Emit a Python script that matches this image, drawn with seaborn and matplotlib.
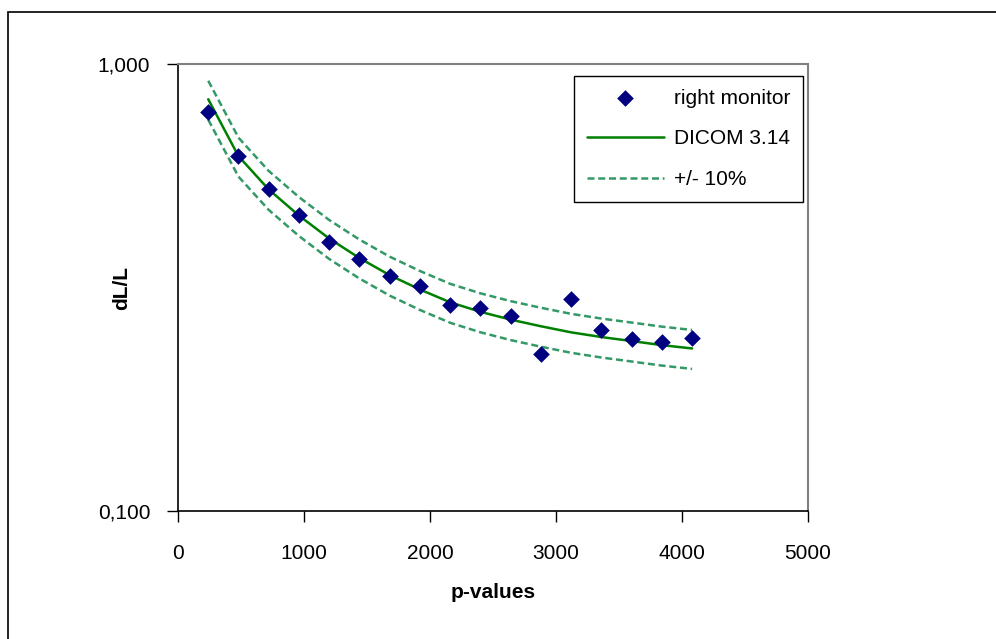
import numpy as np
import pandas as pd
import matplotlib
matplotlib.use("Agg")
import matplotlib.pyplot as plt
import seaborn as sns
from matplotlib.patches import Rectangle
from matplotlib.ticker import FixedLocator, FuncFormatter, NullLocator

# measured points (right monitor)
p_values = [240, 480, 720, 960, 1200, 1440, 1680, 1920, 2160,
            2400, 2640, 2880, 3120, 3360, 3600, 3840, 4080]
dl_monitor = [0.782, 0.622, 0.524, 0.460, 0.400, 0.366, 0.335, 0.319, 0.289,
              0.284, 0.273, 0.224, 0.298, 0.254, 0.243, 0.239, 0.244]

# DICOM 3.14 reference curve, read at the same p-values
dl_dicom = [0.834, 0.622, 0.524, 0.458, 0.407, 0.368, 0.337, 0.313, 0.293,
            0.279, 0.268, 0.259, 0.251, 0.245, 0.240, 0.235, 0.231]

tolerance = 0.10

df = pd.DataFrame({"p": p_values, "monitor": dl_monitor, "dicom": dl_dicom})
df["upper"] = df["dicom"] * (1 + tolerance)
df["lower"] = df["dicom"] * (1 - tolerance)

sns.set_style("white")
plt.rcParams["font.family"] = ["Liberation Sans", "DejaVu Sans"]
plt.rcParams.update({"text.color": "black", "axes.labelcolor": "black",
                     "xtick.color": "black", "ytick.color": "black"})
fs = 15

fig = plt.figure(figsize=(9.96, 6.39), dpi=100)
ax = fig.add_axes([178 / 996, 1 - 511 / 639, 630 / 996, 447 / 639])

sns.scatterplot(data=df, x="p", y="monitor", ax=ax, marker="D", s=72,
                color="#000080", edgecolor="#000080", linewidth=0,
                label="right monitor", zorder=3)
sns.lineplot(data=df, x="p", y="dicom", ax=ax, color="#008000", lw=1.8,
             label="DICOM 3.14", zorder=2)
sns.lineplot(data=df, x="p", y="upper", ax=ax, color="#339966", lw=1.8,
             linestyle=(0, (2.8, 1.5)), label="+/- 10%", zorder=2)
sns.lineplot(data=df, x="p", y="lower", ax=ax, color="#339966", lw=1.8,
             linestyle=(0, (2.8, 1.5)), zorder=2)

ax.set_yscale("log")
ax.set_ylim(0.1, 1.0)
ax.set_xlim(0, 5000)
ax.set_xticks([0, 1000, 2000, 3000, 4000, 5000])
ax.yaxis.set_major_locator(FixedLocator([0.1, 1.0]))
ax.yaxis.set_minor_locator(NullLocator())
ax.yaxis.set_major_formatter(FuncFormatter(lambda v, pos: f"{v:.3f}".replace(".", ",")))

ax.tick_params(axis="both", which="major", direction="out", length=8, width=1,
               color="black", labelcolor="black", labelsize=fs, pad=12,
               left=True, bottom=True)
ax.tick_params(axis="x", pad=16)

for side in ["left", "bottom"]:
    ax.spines[side].set_color("black")
    ax.spines[side].set_linewidth(1.2)
for side in ["top", "right"]:
    ax.spines[side].set_color("#808080")
    ax.spines[side].set_linewidth(1.5)

ax.set_xlabel("p-values", fontsize=fs, fontweight="bold", color="black")
ax.set_ylabel("dL/L", fontsize=fs, fontweight="bold", color="black")
ax.xaxis.set_label_coords(0.5, -0.16)
ax.yaxis.set_label_coords(-0.074, 0.5)

leg = ax.legend(loc="upper right", bbox_to_anchor=(0.992, 0.973), borderaxespad=0,
                fontsize=fs, frameon=True, fancybox=False, framealpha=1,
                edgecolor="black", handlelength=3.7, labelspacing=1.05,
                borderpad=0.6, handletextpad=0.5)
leg.get_frame().set_linewidth(1.0)
for t in leg.get_texts():
    t.set_color("black")

# outer chart border
fig.patches.append(Rectangle((8 / 996, -0.01), 1.0, 1 - 12 / 639 + 0.01,
                             transform=fig.transFigure, fill=False,
                             edgecolor="black", linewidth=1.2))

fig.savefig("out.png", dpi=100, facecolor="white")
